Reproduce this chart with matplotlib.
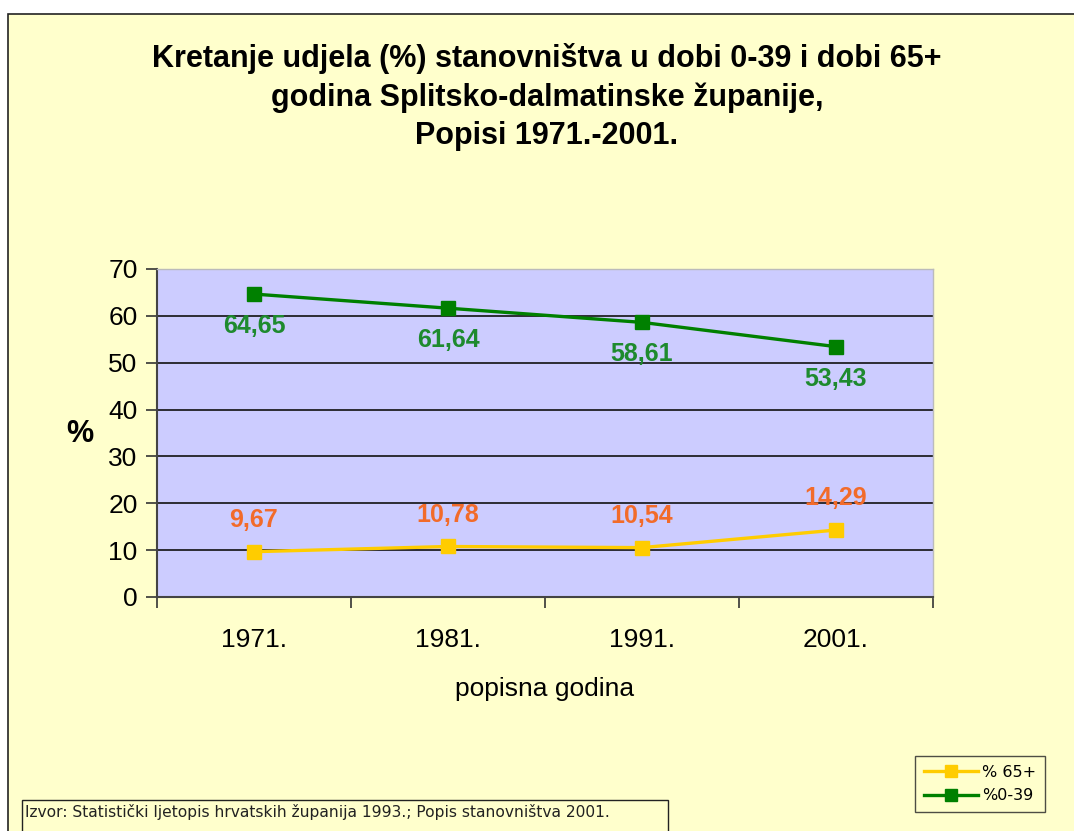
import matplotlib
matplotlib.use("Agg")
import matplotlib.pyplot as plt
from matplotlib.patches import Rectangle

plt.rcParams['font.family'] = ['Liberation Sans', 'DejaVu Sans']

categories = ["1971.", "1981.", "1991.", "2001."]
share_65plus = [9.67, 10.78, 10.54, 14.29]
share_0_39 = [64.65, 61.64, 58.61, 53.43]
labels_65plus = ["9,67", "10,78", "10,54", "14,29"]
labels_0_39 = ["64,65", "61,64", "58,61", "53,43"]

W, H = 1074, 831
fig = plt.figure(figsize=(W / 100, H / 100), dpi=100)
fig.patch.set_facecolor("white")

# outer chart area
fig.patches.append(Rectangle((8 / W, -0.01), (W - 8 + 5) / W, (H - 14) / H + 0.01,
                             transform=fig.transFigure, facecolor="#FFFFCC",
                             edgecolor="#222222", linewidth=1.2, zorder=-10))

ax = fig.add_axes([157 / W, 1 - 597 / H, 776 / W, 328 / H])
ax.set_facecolor("#CCCCFF")

x = list(range(len(categories)))
ax.plot(x, share_65plus, color="#FFCC00", linewidth=2.4, marker="s",
        markersize=10, markerfacecolor="#FFCC00", markeredgecolor="#FFCC00",
        label="% 65+", zorder=3, clip_on=False)
ax.plot(x, share_0_39, color="#008000", linewidth=2.4, marker="s",
        markersize=10, markerfacecolor="#008000", markeredgecolor="#008000",
        label="%0-39", zorder=3, clip_on=False)

for xi, v, t in zip(x, share_65plus, labels_65plus):
    ax.annotate(t, (xi, v), xytext=(0, 23), textcoords="offset points",
                ha="center", va="center", color="#F26B2A", fontsize=18,
                fontweight="bold", zorder=4)
for xi, v, t in zip(x, share_0_39, labels_0_39):
    ax.annotate(t, (xi, v), xytext=(0, -23), textcoords="offset points",
                ha="center", va="center", color="#1E8A2E", fontsize=18,
                fontweight="bold", zorder=4)

ax.set_xlim(-0.5, len(categories) - 0.5)
ax.set_ylim(0, 70)
ax.set_yticks(range(0, 71, 10))
ax.set_xticks([i - 0.5 for i in range(len(categories) + 1)])
ax.set_xticklabels([])
ax.set_xticks(x, minor=True)
ax.set_xticklabels(categories, minor=True, fontsize=19)
ax.tick_params(axis="x", which="minor", length=0, pad=22)
ax.tick_params(axis="x", which="major", length=8, width=1.2, color="#333333", direction="out")
ax.tick_params(axis="y", length=8, width=1.2, color="#333333", labelsize=19, pad=6)
for yv in range(10, 70, 10):
    ax.axhline(yv, color="#111111", linewidth=1.2, zorder=1)
for s in ["left", "bottom"]:
    ax.spines[s].set_color("#444444")
    ax.spines[s].set_linewidth(1.5)
for s in ["top", "right"]:
    ax.spines[s].set_color("#BBBBBB")
    ax.spines[s].set_linewidth(1.0)

ax.set_xlabel("popisna godina", fontsize=19, labelpad=18)
fig.text(80 / W, 1 - 434 / H, "%", fontsize=22, fontweight="bold", ha="center", va="center")

fig.text(547 / W, 1 - 97 / H,
         "Kretanje udjela (%) stanovništva u dobi 0-39 i dobi 65+\n"
         "godina Splitsko-dalmatinske županije,\nPopisi 1971.-2001.",
         fontsize=22, fontweight="bold", ha="center", va="center", linespacing=1.36)

leg = fig.legend(loc="center", bbox_to_anchor=(980 / W, 1 - 784 / H),
                 prop={"family": "DejaVu Sans", "size": 11.5},
                 frameon=True, fancybox=False, edgecolor="#222222", facecolor="#FFFFCC",
                 handlelength=3.4, handletextpad=0.2, borderpad=0.55, labelspacing=0.55,
                 markerscale=0.85)
leg.get_frame().set_linewidth(1.0)

fig.patches.append(Rectangle((22 / W, -0.01), (668 - 22) / W, (H - 800) / H + 0.01,
                             transform=fig.transFigure, facecolor="#FFFFCC",
                             edgecolor="#222222", linewidth=1.0, zorder=1))
fig.text(25 / W, 1 - 812 / H,
         "Izvor: Statistički ljetopis hrvatskih županija 1993.; Popis stanovništva 2001.",
         fontsize=11.2, family="DejaVu Sans", ha="left", va="center", color="#222222", zorder=2)

fig.savefig("out.png", dpi=100, facecolor="white")
